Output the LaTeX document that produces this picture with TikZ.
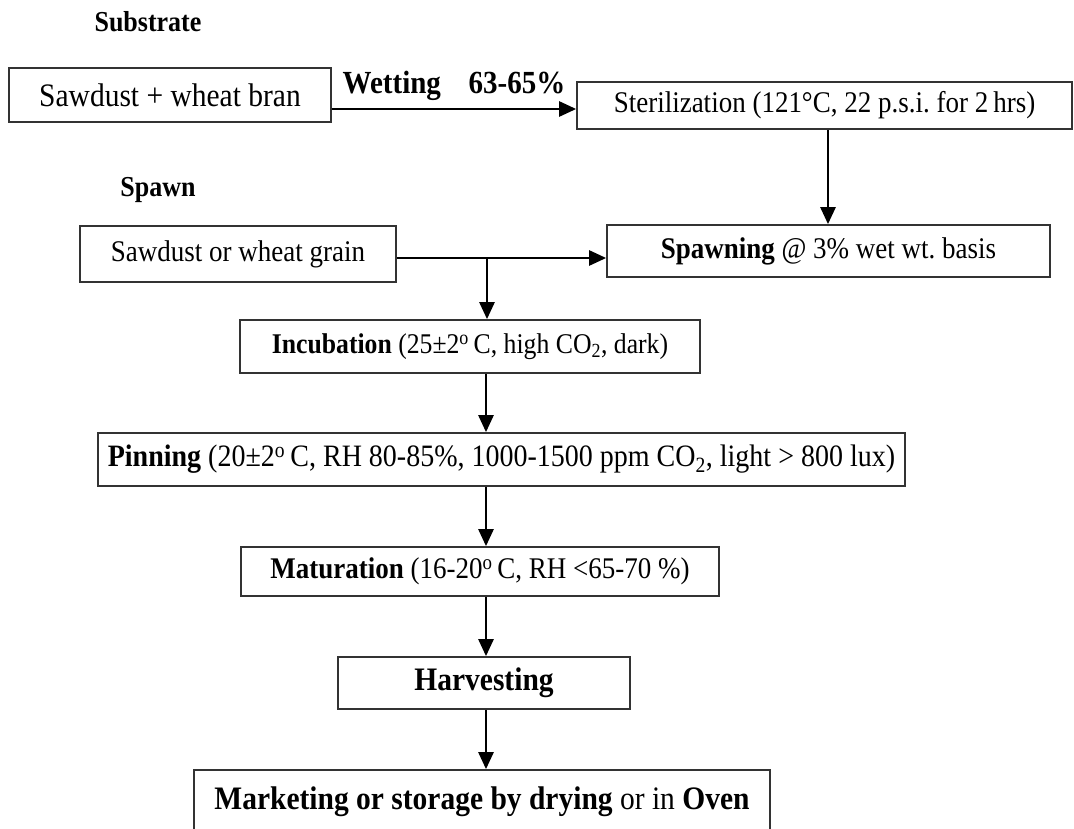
\documentclass[tikz,border=0pt]{standalone}
\usepackage{fontspec}
\setmainfont{Liberation Serif}[FakeStretch=0.9]
\usetikzlibrary{arrows.meta,positioning}
\frenchspacing
\newcommand{\pxsize}[1]{\fontsize{\fpeval{#1/0.9}}{\fpeval{#1/0.9}}\selectfont}
\tikzset{
	stage/.style={draw=black!80, line width=1.7pt, inner sep=0pt, font=\pxsize{27}},
	flow/.style={-{Triangle[length=17pt,width=15pt]}, line width=2.6pt},
	head/.style={anchor=base, font=\pxsize{26}\bfseries}
}
\begin{document}
\begin{tikzpicture}[x=1pt,y=-1pt]
	\useasboundingbox (0,0) rectangle (1074,828);
	\clip (0,0) rectangle (1074,828);
	\fill[white] (0,0) rectangle (1074,828);
	
	\node[head] (subhead) at (148,31) {Substrate};
	\node[head] (spawnhead) at (158,196) {Spawn};
	
	\node[stage, minimum width=322pt, minimum height=54pt, font=\pxsize{29.5}] (sub) at (170,95) {Sawdust + wheat bran};
	\node[stage, minimum width=495pt, minimum height=47pt] (steril) at (824.5,105.5) {Sterilization (121°C, 22 p.s.i. for 2\,hrs)};
	\node[stage, minimum width=316pt, minimum height=56pt] (grain) at (238,254) {Sawdust or wheat grain};
	\node[stage, minimum width=443pt, minimum height=52pt] (spawning) at (828.5,251) {\textbf{Spawning} @ 3\% wet wt. basis};
	\node[stage, minimum width=460pt, minimum height=53pt, font=\pxsize{25.7}] (incub) at (470,346.5) {\textbf{Incubation} (25±2\textsuperscript{o}\,C, high CO\textsubscript{2}, dark)};
	\node[stage, minimum width=807pt, minimum height=53pt, font=\pxsize{28}] (pin) at (501.5,459.5) {\textbf{Pinning} (20±2\textsuperscript{o}\,C, RH 80-85\%, 1000-1500 ppm CO\textsubscript{2}, light > 800 lux)};
	\node[stage, minimum width=478pt, minimum height=49pt] (matur) at (480,571.5) {\textbf{Maturation} (16-20\textsuperscript{o}\,C, RH <65-70 \%)};
	\node[stage, minimum width=292pt, minimum height=52pt, font=\pxsize{29.5}\bfseries] (harvest) at (484,683) {Harvesting};
	\node[stage, minimum width=576pt, minimum height=64pt, font=\pxsize{29.5}] (market) at (482,802) {\textbf{Marketing or storage by drying} or in \textbf{Oven}};
	
	\coordinate (wetrow) at (0,109);
	\coordinate (spawnrow) at (0,258);
	\coordinate (branch) at (487,258);
	\coordinate (col) at (486,0);
	
	\draw[flow] (sub.east |- wetrow) -- node[above=4pt, font=\pxsize{29}\bfseries] (wetting) {Wetting\hspace{0.86em}63-65\%} (steril.west |- wetrow);
	\draw[flow] (steril.south -| 828,0) -- (spawning.north -| 828,0);
	\draw[flow] (grain.east |- spawnrow) -- (spawning.west |- spawnrow);
	\draw[flow] (branch) -- (incub.north -| branch);
	\draw[flow] (incub.south -| col) -- (pin.north -| col);
	\draw[flow] (pin.south -| col) -- (matur.north -| col);
	\draw[flow] (matur.south -| col) -- (harvest.north -| col);
	\draw[flow] (harvest.south -| col) -- (market.north -| col);
\end{tikzpicture}
\end{document}
